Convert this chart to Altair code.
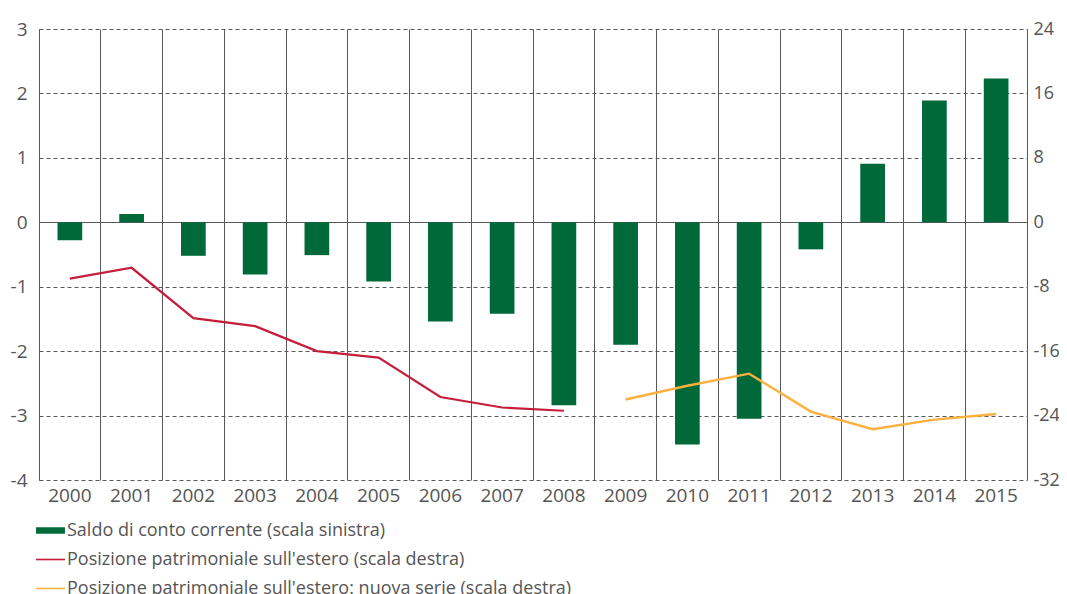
import altair as alt
import pandas as pd

# ---- data ----
years = [str(y) for y in range(2000, 2016)]
saldo = [-0.28, 0.13, -0.52, -0.81, -0.51, -0.92, -1.54, -1.42, -2.84, -1.90,
         -3.45, -3.05, -0.42, 0.91, 1.89, 2.23]

pos_years = years[:9]
pos_vals = [-7.0, -5.65, -11.9, -12.9, -16.0, -16.8, -21.7, -23.0, -23.4]

new_years = years[9:]
new_vals = [-22.0, -20.3, -18.8, -23.5, -25.7, -24.5, -23.8]

labels = [
    "Saldo di conto corrente (scala sinistra)",
    "Posizione patrimoniale sull'estero (scala destra)",
    "Posizione patrimoniale sull'estero: nuova serie (scala destra)",
]
colors = ["#00693A", "#C41E3A", "#FBB040"]

left_ticks = [-4, -3, -2, -1, 0, 1, 2, 3]
right_ticks = [-32, -24, -16, -8, 0, 8, 16, 24]

# ---- tables ----
bars_df = pd.DataFrame({"anno": years, "saldo": saldo})
pos_df = pd.DataFrame({"anno": pos_years, "valore": pos_vals})
new_df = pd.DataFrame({"anno": new_years, "valore": new_vals})
legend_df = pd.DataFrame({"serie": labels})

FONT = "Open Sans"
TXT = "#555555"
GRID = "#595959"

color_scale = alt.Scale(domain=labels, range=colors)
rect_path = "M-1.07,-0.24H1.07V0.24H-1.07Z"
line_path = "M-1.07,-0.06H1.07V0.06H-1.07Z"
shape_scale = alt.Scale(domain=labels, range=[rect_path, line_path, line_path])

x_enc = alt.X(
    "anno:O", sort=years,
    scale=alt.Scale(type="band", paddingInner=0, paddingOuter=0),
    axis=alt.Axis(title=None, labelAngle=0, grid=True, bandPosition=0,
                  gridColor=GRID, gridWidth=1, domain=False, ticks=False,
                  labelFont=FONT, labelFontSize=19, labelColor=TXT, labelPadding=6),
)

bars = alt.Chart(bars_df).mark_bar(
    width=alt.RelativeBandSize(0.4), color=colors[0]
).encode(
    x=x_enc,
    y=alt.Y("saldo:Q",
            scale=alt.Scale(domain=[-4, 3], nice=False, zero=False),
            axis=alt.Axis(title=None, orient="left", values=left_ticks, grid=True,
                          gridColor=GRID, gridWidth=1,
                          gridDash=alt.condition("datum.value === 0", alt.value([]), alt.value([4, 3])),
                          domain=True, domainColor=GRID, ticks=False,
                          labelExpr="'' + datum.value",
                          labelFont=FONT, labelFontSize=19, labelColor=TXT,
                          labelPadding=12)),
)

y_right = alt.Y("valore:Q",
                scale=alt.Scale(domain=[-32, 24], nice=False, zero=False),
                axis=alt.Axis(title=None, orient="right", values=right_ticks, grid=False,
                              domain=True, domainColor=GRID, ticks=False,
                              labelExpr="'' + datum.value",
                              labelFont=FONT, labelFontSize=18, labelColor=TXT,
                              labelPadding=6))

red_line = alt.Chart(pos_df).mark_line(strokeWidth=2.2, color=colors[1]).encode(x=x_enc, y=y_right)
orange_line = alt.Chart(new_df).mark_line(strokeWidth=2.4, color=colors[2]).encode(x=x_enc, y=y_right)
lines = alt.layer(red_line, orange_line)

leg_props = dict(
    title=None, orient="none", legendX=-2, legendY=488, direction="vertical",
    symbolSize=729, symbolOpacity=1, symbolStrokeWidth=0,
    labelFont=FONT, labelFontSize=18, labelColor=TXT, labelOffset=3,
    rowPadding=6, padding=0, labelLimit=0,
)

legend_layer = alt.Chart(legend_df).mark_point(filled=True, opacity=0).encode(
    color=alt.Color("serie:N", scale=color_scale, legend=alt.Legend(**leg_props)),
    shape=alt.Shape("serie:N", scale=shape_scale, legend=alt.Legend(**leg_props)),
)

chart = alt.layer(bars, lines, legend_layer).resolve_scale(
    y="independent"
).properties(
    width=988, height=451,
    padding={"left": 31, "top": 21, "right": 32, "bottom": 130},
    autosize=alt.AutoSizeParams(type="none"),
).configure_view(strokeWidth=0)

chart.save("out.html", embed_options={"renderer": "svg", "actions": False})
